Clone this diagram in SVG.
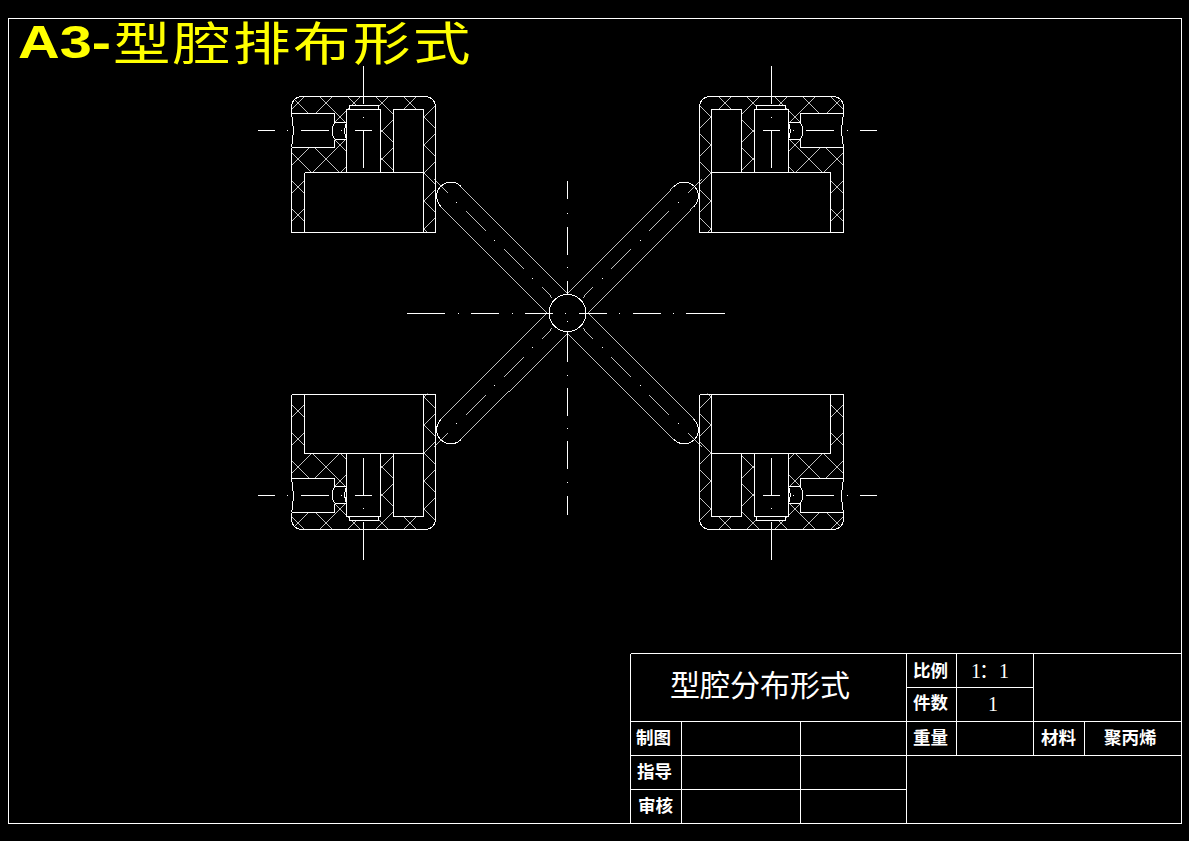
<svg xmlns="http://www.w3.org/2000/svg" xmlns:xlink="http://www.w3.org/1999/xlink" width="1189" height="841" viewBox="0 0 1189 841">
<style>
.l{fill:none;stroke:#fff;stroke-width:1;shape-rendering:crispEdges}
.h{fill:none;stroke:#fff;stroke-width:.75;shape-rendering:crispEdges}
.t{fill:#fff;font-family:"Noto Sans CJK SC","Liberation Sans",sans-serif;font-weight:700;font-size:17.5px}
.d{fill:#fff;font-family:"Liberation Serif","Noto Sans CJK SC",serif;font-size:20px}
.y{fill:#ff0;font-family:"Noto Sans CJK SC",sans-serif;font-size:46px;letter-spacing:2px}
</style>
<defs>
<clipPath id="hatchClip">
<path clip-rule="evenodd" d="M291.5 106A10 10 0 0 1 301.5 96.5H425.5A10 10 0 0 1 435.5 106V232.5H291.5Z M304.5 172.5H423.5V232.5H304.5Z M393.5 109.5H423.5V172.5H393.5Z M346.5 109.5H380.5V172.5H346.5Z M349.5 105.5H378.5V109.5H349.5Z M291.5 113.5H334.5V147.5H291.5Z M334.5 122.5H346.5V139.5H334.5Z"/>
</clipPath>
<g id="cavity">
<path class="h" clip-path="url(#hatchClip)" d="M292 208.7L436 352.7M292 180.7L436 324.7M292 152.7L436 296.7M292 124.7L436 268.7M292 96.7L436 240.7M292 68.7L436 212.7M292 40.7L436 184.7M292 12.7L436 156.7M292 -15.3L436 128.7M292 -43.3L436 100.7M292 109.3L436 -34.7M292 137.3L436 -6.7M292 165.3L436 21.3M292 193.3L436 49.3M292 221.3L436 77.3M292 249.3L436 105.3M292 277.3L436 133.3M292 305.3L436 161.3M292 333.3L436 189.3M292 361.3L436 217.3"/>
<path class="l" d="M291.5 113.5V106A10 10 0 0 1 301.5 96.5H425.5A10 10 0 0 1 435.5 106V231.5M291.5 231.5V147.5"/>
<path class="l" d="M304.5 172.5H423.5V231.5M304.5 172.5V231.5M393.5 172.5V109.5H423.5V172.5M346.5 172.5V109.5H380.5V172.5M349.5 109.5V105.5H378.5V109.5"/>
<path class="l" d="M291.5 113.5H334.5V122.5M291.5 147.5H334.5V139.5M334.5 122.5H346.5M334.5 139.5H346.5"/>
<path class="l" d="M291.5 113.5Q295 130.5 291.5 147.5M334.5 122.5Q330 131 334.5 139.5M346.5 122.5Q343 131 346.5 139.5"/>
<path class="l" d="M258 130.5H275M287 130.5H288M301 130.5H329M341 130.5H342M355 130.5H372M363.5 66V104M363.5 117V118M363.5 130.5V168"/>
</g>
<path id="lipTop" class="l" d="M291.5 231V232.5H435.5V231M304.5 231V232.5M423.5 231V232.5"/>
<path id="lipBottom" class="l" d="M291.5 394.5H435.5"/>
<g id="arm">
<path class="h" d="M567.5 293.5L460.8 186.3M440.8 206.3L547 313"/>
<path class="l" d="M460.8 186.3A14.1 14.1 0 0 0 440.8 206.3"/>
<path class="h" d="M433.5 179L447.5 193M466 211.3L485.7 231M504 249L523.7 268.7M542.3 287L552 297.7"/>
<path class="l" d="M456 202.5H457M494 240.5H495M532 278.5H533"/>
</g>
</defs>
<rect width="1189" height="841" fill="#000"/>
<g id="frame"><rect class="l" x="8.5" y="18.5" width="1173" height="805"/></g>
<g id="heading">
<text x="18" y="58" fill="#ff0" font-family="Liberation Sans,sans-serif" font-weight="700" font-size="46" textLength="93" lengthAdjust="spacingAndGlyphs">A3-</text>
<text class="y" transform="translate(113,60) scale(1.25,1)">型腔排布形式</text>
</g>
<g id="cavity-top-left"><use href="#cavity" xlink:href="#cavity"/><use href="#lipTop" xlink:href="#lipTop"/></g>
<g id="cavity-top-right"><use href="#cavity" xlink:href="#cavity" transform="translate(1135,0) scale(-1,1)"/><use href="#lipTop" xlink:href="#lipTop" transform="translate(1135,0) scale(-1,1)"/></g>
<g id="cavity-bottom-left"><use href="#cavity" xlink:href="#cavity" transform="translate(0,626) scale(1,-1)"/><use href="#lipBottom" xlink:href="#lipBottom"/></g>
<g id="cavity-bottom-right"><use href="#cavity" xlink:href="#cavity" transform="translate(1135,626) scale(-1,-1)"/><use href="#lipBottom" xlink:href="#lipBottom" transform="translate(1135,0) scale(-1,1)"/></g>
<g id="connectors">
<use href="#arm" xlink:href="#arm"/>
<use href="#arm" xlink:href="#arm" transform="translate(1135,0) scale(-1,1)"/>
<use href="#arm" xlink:href="#arm" transform="translate(0,626) scale(1,-1)"/>
<use href="#arm" xlink:href="#arm" transform="translate(1135,626) scale(-1,-1)"/>
</g>
<g id="sprue"><circle class="l" cx="567.5" cy="313" r="18.5"/></g>
<g id="centerlines">
<path class="l" d="M407 313.5H445M458 313.5H459M471 313.5H499M512 313.5H513M525 313.5H553M565 313.5H566M579 313.5H607M619 313.5H620M633 313.5H661M673 313.5H674M686 313.5H725"/>
<path class="l" d="M567.5 181V199M567.5 213V214M567.5 227V255M567.5 267V268M567.5 281V294M567.5 321V322M567.5 332V362M567.5 375V376M567.5 388V416M567.5 428V429M567.5 441V469M567.5 482V483M567.5 496V515"/>
</g>
<g id="title-block">
<path class="l" d="M630.5 653.5H1181.5M630.5 653.5V823.5M630.5 721.5H1181.5M630.5 755.5H1181.5M630.5 789.5H906.5M906.5 687.5H1033.5M681.5 721.5V823.5M800.5 721.5V823.5M906.5 653.5V823.5M956.5 653.5V755.5M1033.5 653.5V755.5M1084.5 721.5V755.5"/>
<text x="670" y="696" fill="#fff" font-family="Noto Sans CJK SC,sans-serif" font-size="30">型腔分布形式</text>
<text class="t" x="636" y="744">制图</text>
<text class="t" x="637" y="778">指导</text>
<text class="t" x="638" y="812">审核</text>
<text class="t" x="913" y="677">比例</text>
<text class="t" x="913" y="709">件数</text>
<text class="t" x="913" y="744">重量</text>
<text class="t" x="1041" y="744">材料</text>
<text class="t" x="1104" y="744">聚丙烯</text>
<text class="d" x="971 979 999" y="678">1：1</text>
<text class="d" x="988" y="711">1</text>
</g>
</svg>
